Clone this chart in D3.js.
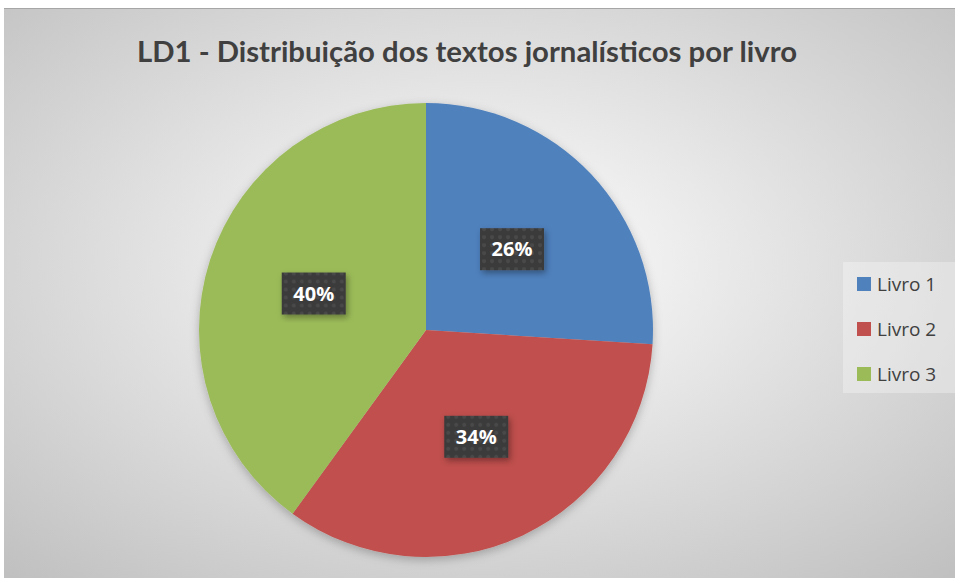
<!DOCTYPE html>
<html>
<head>
<meta charset="utf-8">
<script src="https://cdn.jsdelivr.net/npm/d3@7"></script>
<style>
  html, body { margin: 0; padding: 0; background: #fff; }
  svg { display: block; }
</style>
</head>
<body>
<div id="chart"></div>
<script>
// chart data
var categories = ["Livro 1", "Livro 2", "Livro 3"];
var values = [26, 34, 40];
var colors = ["#4f81bd", "#c0504d", "#9bbb59"];
var titleText = "LD1 - Distribuição dos textos jornalísticos por livro";

var W = 955, H = 578;
var cx = 426, cy = 330, R = 227;

var svg = d3.select("#chart").append("svg")
  .attr("width", W).attr("height", H);

var defs = svg.append("defs");

// background gradient
var bg = defs.append("radialGradient").attr("id", "bg")
  .attr("cx", "50%").attr("cy", "45%").attr("r", "75%");
bg.append("stop").attr("offset", "0%").attr("stop-color", "#ffffff");
bg.append("stop").attr("offset", "100%").attr("stop-color", "#bfbfbf");

// dotted pattern for label boxes
var pat = defs.append("pattern").attr("id", "dots")
  .attr("width", 8).attr("height", 8).attr("patternUnits", "userSpaceOnUse");
pat.append("rect").attr("width", 8).attr("height", 8).attr("fill", "#3a3a3a");
pat.append("circle").attr("cx", 4).attr("cy", 4).attr("r", 2).attr("fill", "#4a4a4a");

var sh = defs.append("filter").attr("id", "shadow")
  .attr("x", "-20%").attr("y", "-20%").attr("width", "140%").attr("height", "140%");
sh.append("feDropShadow").attr("dx", 2).attr("dy", 3).attr("stdDeviation", 3)
  .attr("flood-color", "#000").attr("flood-opacity", 0.35);

var pieSh = defs.append("filter").attr("id", "pieshadow")
  .attr("x", "-10%").attr("y", "-10%").attr("width", "120%").attr("height", "120%");
pieSh.append("feDropShadow").attr("dx", 0).attr("dy", 3).attr("stdDeviation", 5)
  .attr("flood-color", "#000").attr("flood-opacity", 0.25);

// chart area
svg.append("rect").attr("x", 4).attr("y", 8).attr("width", W - 4).attr("height", H - 8)
  .attr("fill", "url(#bg)");
svg.append("line").attr("x1", 4).attr("x2", W).attr("y1", 8.5).attr("y2", 8.5)
  .attr("stroke", "#a6a6a6").attr("stroke-width", 1);

// title
svg.append("text")
  .attr("x", 467).attr("y", 62)
  .attr("text-anchor", "middle")
  .attr("font-family", "Lato, 'Open Sans', sans-serif")
  .attr("font-weight", "bold")
  .attr("font-size", 29)
  .attr("fill", "#404040")
  .attr("textLength", 660).attr("lengthAdjust", "spacingAndGlyphs")
  .text(titleText);

// pie
var total = d3.sum(values);
var pie = d3.pie().sort(null).value(function(d) { return d; });
var arcs = pie(values);
var arc = d3.arc().innerRadius(0).outerRadius(R);
var labelArc = d3.arc().innerRadius(R * 0.52).outerRadius(R * 0.52);

var g = svg.append("g").attr("transform", "translate(" + cx + "," + cy + ")");
g.append("g").attr("filter", "url(#pieshadow)")
  .selectAll("path").data(arcs).enter().append("path")
  .attr("d", arc)
  .attr("fill", function(d, i) { return colors[i]; });

// data labels
var lab = g.selectAll(".lab").data(arcs).enter().append("g")
  .attr("class", "lab")
  .attr("transform", function(d) {
    var c = labelArc.centroid(d);
    return "translate(" + c[0] + "," + c[1] + ")";
  });
lab.append("rect")
  .attr("x", -32).attr("y", -21).attr("width", 64).attr("height", 42)
  .attr("fill", "url(#dots)")
  .attr("filter", "url(#shadow)");
lab.append("text")
  .attr("text-anchor", "middle")
  .attr("dy", "0.36em")
  .attr("font-family", "'Open Sans', sans-serif")
  .attr("font-weight", "bold")
  .attr("font-size", 20)
  .attr("fill", "#fff")
  .text(function(d) { return Math.round(d.value / total * 100) + "%"; });

// legend
var lg = svg.append("g").attr("transform", "translate(843,262)");
lg.append("rect").attr("width", 112).attr("height", 131)
  .attr("fill", "#ffffff").attr("opacity", 0.3);
var item = lg.selectAll(".item").data(categories).enter().append("g")
  .attr("class", "item")
  .attr("transform", function(d, i) { return "translate(14," + (22 + i * 45) + ")"; });
item.append("rect").attr("x", 0).attr("y", -7).attr("width", 14).attr("height", 14)
  .attr("fill", function(d, i) { return colors[i]; });
item.append("text").attr("x", 20).attr("dy", "0.35em")
  .attr("font-family", "'Open Sans', sans-serif")
  .attr("font-size", 19)
  .attr("fill", "#404040")
  .text(function(d) { return d; });
</script>
</body>
</html>
